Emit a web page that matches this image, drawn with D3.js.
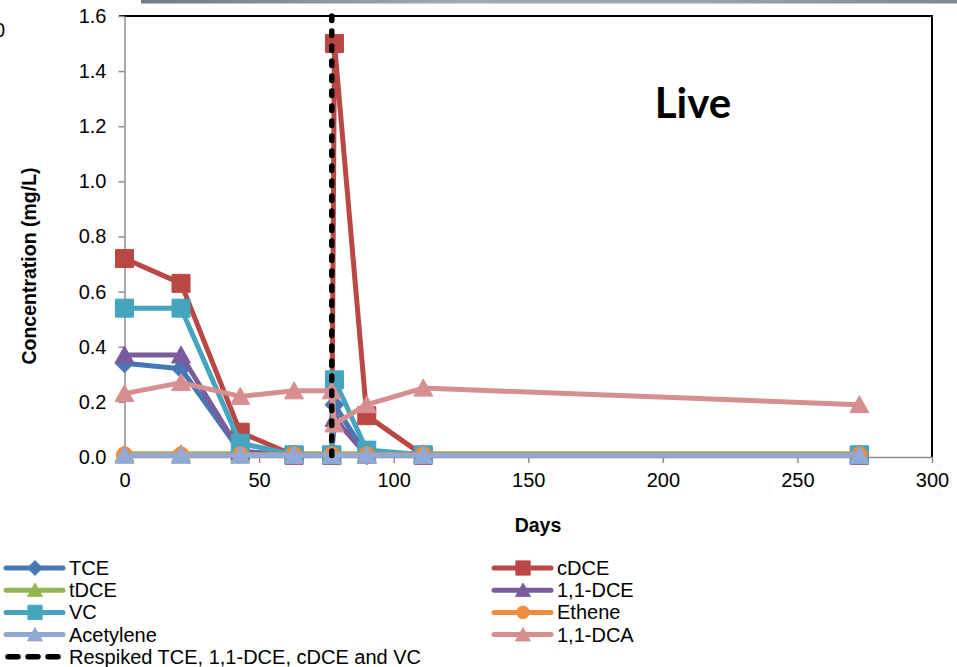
<!DOCTYPE html>
<html>
<head>
<meta charset="utf-8">
<script src="https://cdn.jsdelivr.net/npm/d3@7"></script>
<style>
body { margin: 0; background: #fff; }
svg { display: block; font-family: Arial, "Liberation Sans", sans-serif; }
</style>
</head>
<body>
<div id="chart"></div>
<script>
// sampling days (day 78 = right after the respike)
var days = [0, 21, 43, 63, 77, 78, 90, 111, 273];
var tce      = [0.34, 0.32, 0.02, 0.006, 0.006, 0.19, 0.006, 0.006, 0.006];
var cdce     = [0.72, 0.63, 0.09, 0.006, 0.006, 1.50, 0.15, 0.006, 0.006];
var tdce     = [0.012, 0.012, 0.012, 0.012, 0.012, null, 0.012, 0.012, 0.012];
var dce11    = [0.37, 0.37, 0.02, 0.006, 0.006, 0.14, 0.006, 0.006, 0.006];
var vc       = [0.54, 0.54, 0.05, 0.008, 0.008, 0.28, 0.025, 0.008, 0.008];
var ethene   = [0.008, 0.008, 0.008, 0.008, 0.008, null, 0.008, 0.008, 0.008];
var acetylene= [0.006, 0.006, 0.006, 0.006, 0.006, null, 0.006, 0.006, 0.006];
var dca11    = [0.23, 0.27, 0.22, 0.24, 0.24, 0.12, 0.19, 0.25, 0.19];
var respikeDay = 77;
var respikeLabel = "Respiked TCE, 1,1-DCE, cDCE and VC";

var xTicks = [0, 50, 100, 150, 200, 250, 300];
var yTicks = [0, 0.2, 0.4, 0.6, 0.8, 1.0, 1.2, 1.4, 1.6];

var series = [
    {name: "TCE", values: tce, color: "#4677b6", marker: "diamond"},
    {name: "cDCE", values: cdce, color: "#bb4744", marker: "square"},
    {name: "tDCE", values: tdce, color: "#92b550", marker: "triangle"},
    {name: "1,1-DCE", values: dce11, color: "#7a5c9e", marker: "triangle"},
    {name: "VC", values: vc, color: "#45a5bf", marker: "square"},
    {name: "Ethene", values: ethene, color: "#ef8c3e", marker: "circle"},
    {name: "Acetylene", values: acetylene, color: "#91a9d4", marker: "triangle"},
    {name: "1,1-DCA", values: dca11, color: "#d68f8e", marker: "triangle"}
];

var W = 957, H = 667;
var plotLeft = 124.5, plotRight = 932, plotTop = 16, plotBottom = 457;

var svg = d3.select("#chart").append("svg")
    .attr("width", W)
    .attr("height", H);

var x = d3.scaleLinear().domain([0, 300]).range([plotLeft, plotRight]);
var y = d3.scaleLinear().domain([0, 1.6]).range([plotBottom, plotTop]);

// gray bar across the top of the slide
var grad = svg.append("defs").append("linearGradient").attr("id", "topbar");
grad.append("stop").attr("offset", "0%").attr("stop-color", "#6f7b88");
grad.append("stop").attr("offset", "40%").attr("stop-color", "#a5a9b0");
grad.append("stop").attr("offset", "70%").attr("stop-color", "#97a3a6");
grad.append("stop").attr("offset", "100%").attr("stop-color", "#7f8890");
svg.append("rect")
    .attr("x", 141).attr("y", 0)
    .attr("width", W - 141).attr("height", 3.5)
    .attr("fill", "url(#topbar)");

svg.append("text")
    .attr("x", -6).attr("y", 37)
    .style("font-size", "20px")
    .text("0");

// frame (top and right in black)
svg.append("line")
    .attr("x1", 119).attr("x2", plotRight + 1)
    .attr("y1", plotTop).attr("y2", plotTop)
    .attr("stroke", "#000").attr("stroke-width", 2);
svg.append("line")
    .attr("x1", plotRight).attr("x2", plotRight)
    .attr("y1", plotTop).attr("y2", plotBottom)
    .attr("stroke", "#000").attr("stroke-width", 2);

// axes
var yAxis = svg.append("g")
    .attr("transform", "translate(" + plotLeft + ",0)")
    .call(d3.axisLeft(y).tickValues(yTicks).tickFormat(d3.format(".1f"))
        .tickSize(6).tickSizeOuter(0).tickPadding(12));
var xAxis = svg.append("g")
    .attr("transform", "translate(0," + plotBottom + ")")
    .call(d3.axisBottom(x).tickValues(xTicks).tickFormat(d3.format("d"))
        .tickSize(6).tickSizeOuter(0).tickPadding(10));

[yAxis, xAxis].forEach(function(a) {
    a.select(".domain").attr("stroke", "#8c8c8c").attr("stroke-width", 1.5);
    a.selectAll(".tick line").attr("stroke", "#8c8c8c").attr("stroke-width", 1.5);
    a.selectAll(".tick text")
        .attr("fill", "#000")
        .style("font-size", "20px")
        .style("font-family", "Arial, 'Liberation Sans', sans-serif");
});

svg.append("text")
    .attr("transform", "translate(36,266) rotate(-90)")
    .attr("text-anchor", "middle")
    .style("font-size", "19.5px")
    .style("font-weight", "bold")
    .text("Concentration (mg/L)");

svg.append("text")
    .attr("x", 538).attr("y", 532)
    .attr("text-anchor", "middle")
    .style("font-size", "19.5px")
    .style("font-weight", "bold")
    .text("Days");

svg.append("text")
    .attr("x", 693).attr("y", 118)
    .attr("text-anchor", "middle")
    .style("font-family", "Lato, 'Open Sans', sans-serif")
    .style("font-size", "42px")
    .style("font-weight", "bold")
    .text("Live");

function markerPath(type) {
    if (type === "square") return "M-9,-9H9V9H-9Z";
    if (type === "diamond") return "M0,-9.5L9.5,0L0,9.5L-9.5,0Z";
    if (type === "triangle") return "M0,-9L9.5,8H-9.5Z";
    // circle
    return "M8,0A8,8 0 1,1 -8,0A8,8 0 1,1 8,0Z";
}

var line = d3.line()
    .x(function(d) { return x(d.day); })
    .y(function(d) { return y(d.v); });

series.forEach(function(s) {
    var pts = days.map(function(d, i) { return {day: d, v: s.values[i]}; })
        .filter(function(p) { return p.v !== null; });
    var g = svg.append("g").attr("class", "series");
    g.append("path")
        .datum(pts)
        .attr("d", line)
        .attr("fill", "none")
        .attr("stroke", s.color)
        .attr("stroke-width", 5)
        .attr("stroke-linejoin", "round");
    g.selectAll(".mark")
        .data(pts)
        .enter()
        .append("path")
        .attr("class", "mark")
        .attr("d", markerPath(s.marker))
        .attr("transform", function(p) {
            return "translate(" + x(p.day) + "," + y(p.v) + ")";
        })
        .attr("fill", s.color)
        .attr("stroke", s.color)
        .attr("stroke-width", 1);
});

// respike line
svg.append("line")
    .attr("x1", x(respikeDay)).attr("x2", x(respikeDay))
    .attr("y1", y(1.6)).attr("y2", y(0))
    .attr("stroke", "#000")
    .attr("stroke-width", 5.5)
    .attr("stroke-dasharray", "4.5,10.5")
    .attr("stroke-linecap", "round");

// legend: two columns, filled row by row
var legendItems = series.slice();
legendItems.push({name: respikeLabel, color: "#000", dashed: true});

var legend = svg.append("g").attr("class", "legend");
legendItems.forEach(function(s, i) {
    var col = i % 2, row = Math.floor(i / 2);
    var lx = col === 0 ? 5 : 493;
    var ly = 568 + row * 22.2;
    var item = legend.append("g").attr("transform", "translate(" + lx + "," + ly + ")");
    if (s.dashed) {
        item.append("line")
            .attr("x1", 3).attr("x2", 58)
            .attr("stroke", "#000").attr("stroke-width", 5.5)
            .attr("stroke-dasharray", "10,10")
            .attr("stroke-linecap", "round");
    } else {
        item.append("line")
            .attr("x1", 1).attr("x2", 58)
            .attr("stroke", s.color).attr("stroke-width", 5)
            .attr("stroke-linecap", "round");
        item.append("path")
            .attr("d", markerPath(s.marker))
            .attr("transform", "translate(30,0) scale(0.8)")
            .attr("fill", s.color)
            .attr("stroke", s.color);
    }
    item.append("text")
        .attr("x", 64).attr("y", 7)
        .style("font-size", "20px")
        .text(s.name);
});
</script>
</body>
</html>
